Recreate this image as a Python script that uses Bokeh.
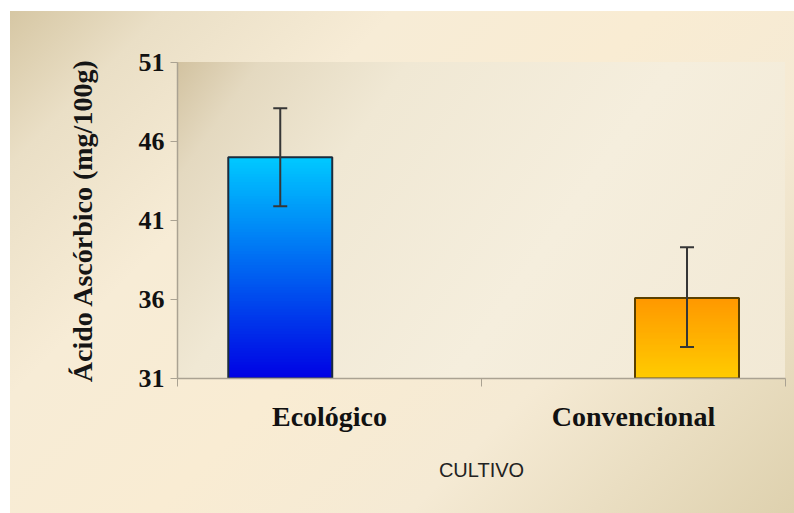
import numpy as np
from bokeh.plotting import figure
from bokeh.models import (Range1d, FixedTicker, ColumnDataSource, Whisker, TeeHead)
from bokeh.embed import file_html
from bokeh.resources import INLINE

# ---- data ----
categories = ["Ecológico", "Convencional"]
values = [45.0, 36.1]
err_upper = [48.1, 39.3]
err_lower = [41.9, 33.0]
y_ticks = [31, 36, 41, 46, 51]
y_min, y_max = 31, 51

# ---- styles ----
bar_offsets = [-0.162, 0.176]
bar_width = 0.342
top_colors = [(0, 200, 255), (255, 152, 0)]
bottom_colors = [(0, 0, 228), (255, 204, 0)]
outline_colors = ["#1c2c3c", "#5a4000"]
serif = "Liberation Serif"

W, H = 794, 513
left, right, top, bottom = 177, 9, 62, 135
fw, fh = W - left - right, H - top - bottom

outer_bg = ("linear-gradient(135deg, #d6c7a4 0%, #eadfc6 12%, #f7ecd6 30%, "
            "#f9ecd3 50%, #f5ead4 70%, #ded1ae 100%) 10px 11px / 784px 502px no-repeat")
frame_bg = (f"linear-gradient(125deg, #d2c2a0 0%, #e4d9c0 10%, #f0e8d4 28%, "
            f"#f5eedd 60%, #f2e9d5 100%) {left}px {top}px / {fw}px {fh}px no-repeat")

p = figure(width=W, height=H, output_backend="svg", toolbar_location=None,
           x_range=Range1d(0, len(categories)), y_range=Range1d(y_min, y_max),
           min_border_left=left, min_border_right=right,
           min_border_top=top, min_border_bottom=bottom)
p.styles = {"background": f"{frame_bg}, {outer_bg}", "background-color": "#ffffff"}
p.background_fill_color = None
p.border_fill_color = None
p.outline_line_color = None
p.xgrid.visible = False
p.ygrid.visible = False

# gradient bars: overlapping strips from the axis floor up to each level,
# tallest drawn first so every level shows its own colour without seams
N = 80
for i, (v, c0, c1, oc) in enumerate(zip(values, top_colors, bottom_colors, outline_colors)):
    xc = i + 0.5 + bar_offsets[i]
    tops = np.linspace(v, y_min, N, endpoint=False)  # descending
    t = (tops - y_min) / (v - y_min)  # 1 top -> ~0 bottom
    cols = ["#%02x%02x%02x" % tuple(int(round(c1[k] + (c0[k] - c1[k]) * tt)) for k in range(3)) for tt in t]
    p.vbar(x=[xc] * N, width=bar_width, bottom=[y_min] * N, top=tops,
           fill_color=cols, line_color=None)
    p.vbar(x=[xc], width=bar_width, bottom=[y_min], top=[v],
           fill_color=None, line_color=oc, line_width=2)

# error bars
xs = [i + 0.5 + bar_offsets[i] for i in range(len(categories))]
src = ColumnDataSource(dict(x=xs, upper=err_upper, lower=err_lower))
err_col = "#363636"
w = Whisker(base="x", upper="upper", lower="lower", source=src,
            line_color=err_col, line_width=2, level="overlay",
            upper_head=TeeHead(size=14, line_color=err_col, line_width=2),
            lower_head=TeeHead(size=14, line_color=err_col, line_width=2))
p.add_layout(w)

# y axis
ya = p.yaxis[0]
ya.ticker = FixedTicker(ticks=y_ticks, minor_ticks=[])
ya.axis_line_color = "#aaa292"
ya.axis_line_width = 1.5
ya.major_tick_line_color = "#aaa292"
ya.major_tick_out = 7
ya.major_tick_in = 0
ya.minor_tick_line_color = None
ya.major_label_text_font = serif
ya.major_label_text_font_style = "bold"
ya.major_label_text_font_size = "26px"
ya.major_label_text_color = "#111111"
ya.major_label_standoff = 6
ya.axis_label = "Ácido Ascórbico (mg/100g)"
ya.axis_label_text_font = serif
ya.axis_label_text_font_style = "bold"
ya.axis_label_text_font_size = "28px"
ya.axis_label_text_color = "#151515"
ya.axis_label_standoff = 38

# x axis: labels at category centres, ticks at category boundaries
xa = p.xaxis[0]
centres = [i + 0.5 for i in range(len(categories))]
xa.ticker = FixedTicker(ticks=centres, minor_ticks=list(range(len(categories) + 1)))
xa.major_label_overrides = {c: lab for c, lab in zip(centres, categories)}
xa.axis_line_color = "#aaa292"
xa.axis_line_width = 1.5
xa.major_tick_line_color = None
xa.major_tick_out = 0
xa.major_tick_in = 0
xa.minor_tick_line_color = "#aaa292"
xa.minor_tick_out = 8
xa.minor_tick_in = 0
xa.major_label_text_font = serif
xa.major_label_text_font_style = "bold"
xa.major_label_text_font_size = "28px"
xa.major_label_text_color = "#111111"
xa.major_label_standoff = 14
xa.axis_label = "CULTIVO"
xa.axis_label_text_font = "Liberation Sans"
xa.axis_label_text_font_style = "normal"
xa.axis_label_text_font_size = "20px"
xa.axis_label_text_color = "#222222"
xa.axis_label_standoff = 24

open("out.html", "w").write(file_html(p, INLINE))
